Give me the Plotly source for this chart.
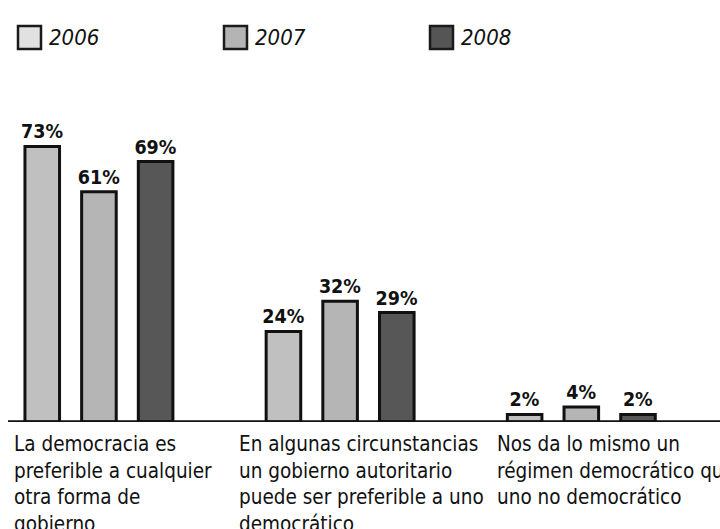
import plotly.graph_objects as go

# ---- data ----
years = ["2006", "2007", "2008"]
categories = [
    "La democracia es preferible a cualquier otra forma de gobierno",
    "En algunas circunstancias un gobierno autoritario puede ser preferible a uno democrático",
    "Nos da lo mismo un régimen democrático que uno no democrático",
]
category_labels = [
    "La democracia es<br>preferible a cualquier<br>otra forma de<br>gobierno",
    "En algunas circunstancias<br>un gobierno autoritario<br>puede ser preferible a uno<br>democrático",
    "Nos da lo mismo un<br>régimen democrático que<br>uno no democrático",
]
values_2006 = [73, 24, 2]
values_2007 = [61, 32, 4]
values_2008 = [69, 29, 2]

# ---- styles ----
bar_colors = ["#c0c0c0", "#b5b5b5", "#575757"]
legend_colors = ["#e1e1e1", "#b4b4b4", "#555555"]
FONT = "'DejaVu Sans Condensed', 'Liberation Sans', Arial, sans-serif"

W, H = 720, 529
ML, MR, MT, MB = 8, 0, 80, 106.5


def px_x(p):
    return (p - ML) / (W - ML - MR)


def px_y(p):
    return (H - MB - p) / (H - MT - MB)


fig = go.Figure()
for yr, vals, col in zip(years, [values_2006, values_2007, values_2008], bar_colors):
    fig.add_trace(go.Bar(
        name=yr,
        x=categories,
        y=vals,
        marker=dict(color=col, line=dict(color="#111111", width=3)),
        texttemplate="<b>%{y}%</b>",
        textposition="outside",
        textfont=dict(family=FONT, size=19.5, color="#111111"),
        constraintext="none",
        cliponaxis=False,
        showlegend=False,
        hoverinfo="skip",
    ))

shapes = []
annotations = []
# baseline
shapes.append(dict(type="line", xref="paper", yref="y", x0=0, x1=1, y0=0, y1=0,
                   line=dict(color="#111111", width=3.5), layer="above"))

# custom legend
legend_left = [18, 224, 430]
for yr, col, lx in zip(years, legend_colors, legend_left):
    shapes.append(dict(type="rect", xref="paper", yref="paper",
                       x0=px_x(lx), x1=px_x(lx + 23), y0=px_y(49), y1=px_y(26),
                       fillcolor=col, line=dict(color="#1a1a1a", width=2.5)))
    annotations.append(dict(xref="paper", yref="paper", x=px_x(lx + 29), y=px_y(37.5),
                            xanchor="left", yanchor="middle", showarrow=False,
                            text="<i>" + yr + "</i>",
                            font=dict(family=FONT, size=22, color="#111111")))

# category labels
label_left = [12, 237, 495]
for lbl, lx in zip(category_labels, label_left):
    annotations.append(dict(xref="paper", yref="paper", x=px_x(lx), y=0,
                            xanchor="left", yanchor="top", yshift=-8,
                            align="left", showarrow=False, text=lbl,
                            font=dict(family=FONT, size=20.5, color="#111111")))

fig.update_layout(
    width=W, height=H,
    margin=dict(l=ML, r=MR, t=MT, b=MB, pad=0),
    paper_bgcolor="white", plot_bgcolor="white",
    barmode="group", bargap=0.295, bargroupgap=0.39,
    xaxis=dict(type="category", range=[-0.377, 2.575], showticklabels=False,
               showgrid=False, zeroline=False, showline=False, ticks=""),
    yaxis=dict(range=[0, 90.6], visible=False),
    shapes=shapes, annotations=annotations,
    showlegend=False,
)

fig.write_html("out.html", config={"displayModeBar": False},
               post_script="document.body.style.margin='0';document.body.style.padding='0';")
